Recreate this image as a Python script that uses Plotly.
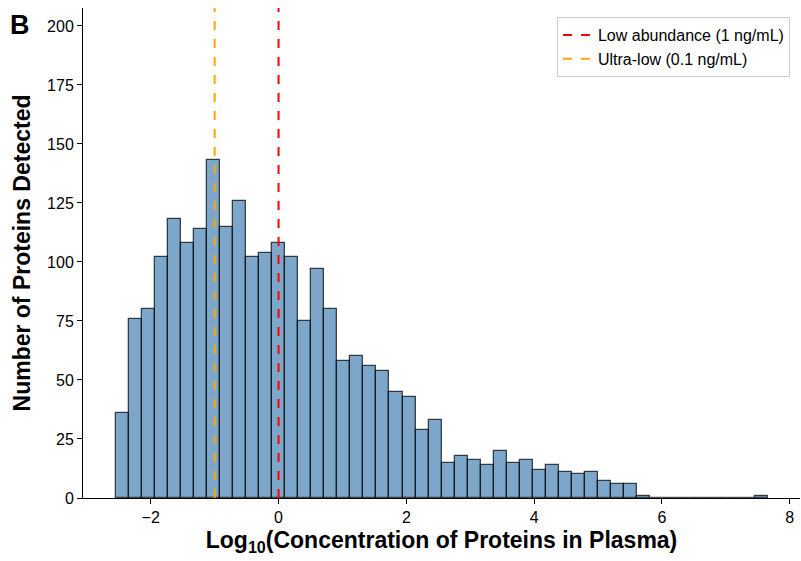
import plotly.graph_objects as go

# Histogram data (50 bins)
bin_start = -2.548
bin_width = 0.204
counts = [36, 76, 80, 102, 118, 108, 114, 143, 115, 126,
          102, 104, 108, 102, 75, 97, 80, 58, 60, 56,
          54, 45, 43, 29, 33, 15, 18, 16, 14, 20,
          15, 16, 12, 14, 11, 10, 11, 7, 6, 6,
          1, 0, 0, 0, 0, 0, 0, 0, 0, 1]
centers = [bin_start + (i + 0.5) * bin_width for i in range(len(counts))]

low_abundance_x = 0.0      # log10(1 ng/mL)
ultra_low_x = -1.0         # log10(0.1 ng/mL)
y_top = 207.6
x_ticks = [-2, 0, 2, 4, 6, 8]
x_tick_text = ["\u22122", "0", "2", "4", "6", "8"]
y_ticks = [0, 25, 50, 75, 100, 125, 150, 175, 200]

FONT = "Liberation Sans, Arial, sans-serif"

fig = go.Figure()
fig.add_trace(go.Bar(
    x=centers, y=counts, width=bin_width,
    marker=dict(color="rgba(70,130,180,0.7)",
                line=dict(color="rgba(0,0,0,0.7)", width=1.3)),
    showlegend=False, hoverinfo="skip"))
fig.add_trace(go.Scatter(
    x=[low_abundance_x, low_abundance_x], y=[0, y_top], mode="lines",
    line=dict(color="red", width=2, dash="dash"),
    name="Low abundance (1 ng/mL)"))
fig.add_trace(go.Scatter(
    x=[ultra_low_x, ultra_low_x], y=[0, y_top], mode="lines",
    line=dict(color="orange", width=2, dash="dash"),
    name="Ultra-low (0.1 ng/mL)"))

fig.update_layout(
    width=801, height=561,
    margin=dict(l=83, r=1, t=8, b=63),
    paper_bgcolor="white", plot_bgcolor="white",
    font=dict(family=FONT, size=16, color="black"),
    bargap=0,
    legend=dict(x=0.986, y=0.9816, xanchor="right", yanchor="top",
                bordercolor="#cccccc", borderwidth=1, bgcolor="white",
                font=dict(size=16), tracegroupgap=0),
    xaxis=dict(range=[-3.06, 8.16], tickvals=x_ticks, ticktext=x_tick_text,
               showline=True, linecolor="black", linewidth=1,
               ticks="outside", ticklen=5, tickcolor="black",
               tickfont=dict(size=16),
               showgrid=False, zeroline=False,
               title=dict(text="<b>Log<sub>10</sub>(Concentration of Proteins in Plasma)</b>",
                          font=dict(size=23), standoff=6)),
    yaxis=dict(range=[0, y_top], tickvals=y_ticks,
               showline=True, linecolor="black", linewidth=1,
               ticks="outside", ticklen=5, tickcolor="black",
               tickfont=dict(size=16),
               showgrid=False, zeroline=False,
               title=dict(text="<b>Number of Proteins Detected</b>",
                          font=dict(size=23), standoff=10)),
    annotations=[dict(text="<b>B</b>", xref="paper", yref="paper",
                      x=-0.1046, y=1.0, xanchor="left", yanchor="top",
                      showarrow=False, font=dict(size=27))],
)

fig.write_html("out.html")
